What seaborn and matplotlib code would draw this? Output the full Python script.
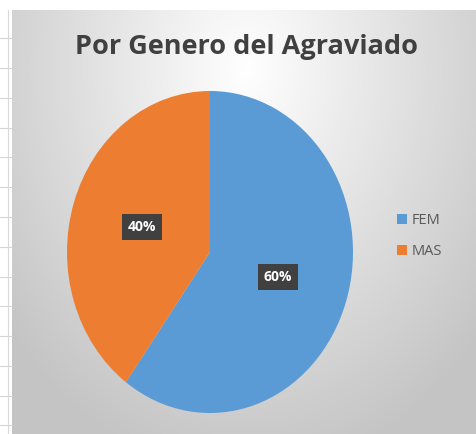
import numpy as np
import matplotlib
matplotlib.use("Agg")
import matplotlib.pyplot as plt
import seaborn as sns
from matplotlib.patches import Patch

categories = ["FEM", "MAS"]
values = [60, 40]
colors = ["#5B9BD5", "#ED7D31"]
title = "Por Genero del Agraviado"

sns.set_theme(style="white")
plt.rcParams['font.family'] = ['Open Sans', 'DejaVu Sans']

W, H = 476, 434
fig = plt.figure(figsize=(W / 100, H / 100), dpi=100)
fig.patch.set_facecolor("white")

# background: spreadsheet strip + gradient chart area
bg = fig.add_axes([0, 0, 1, 1])
bg.set_xlim(0, W)
bg.set_ylim(H, 0)
bg.axis("off")
yy, xx = np.mgrid[0:H, 0:W]
d = np.sqrt(((xx - 240) / 360.0) ** 2 + ((yy - 60) / 470.0) ** 2)
g = np.clip(1.0 - 0.26 * d, 0.77, 1.0)
img = np.dstack([g, g, g])
bg.imshow(img, extent=[12, W, H, 10], zorder=0)
for y in [38, 68, 98, 128, 157, 187, 217, 247, 277, 306, 336, 366, 396, 425]:
    bg.plot([0, 12], [y, y], color="#d4d4d4", lw=0.8, zorder=1)
bg.plot([8, 8], [10, H], color="#d9d9d9", lw=0.8, zorder=1)

# pie axes (slightly stretched vertically like the reference)
ax = fig.add_axes([67 / W, (H - 413) / H, 286 / W, 322 / H])
wedges, texts, autotexts = ax.pie(
    values, colors=colors, startangle=90, counterclock=False,
    autopct="%1.0f%%", pctdistance=0.5, radius=1.0,
    wedgeprops=dict(linewidth=0),
    textprops=dict(color="white", fontsize=10, fontweight="bold"),
)
for t in autotexts:
    t.set_bbox(dict(boxstyle="square,pad=0.45", facecolor="#404040", edgecolor="none"))
ax.set_aspect("auto")
ax.set_xlim(-1, 1)
ax.set_ylim(-1, 1)
ax.axis("off")

fig.text(246 / W, 1 - 47 / H, title, ha="center", va="center",
         fontsize=19.5, fontweight="bold", color="#404040")

handles = [Patch(facecolor=c, edgecolor="none") for c in colors]
fig.legend(handles, categories, loc="center left", bbox_to_anchor=(384 / W, 1 - 236 / H),
           frameon=False, fontsize=10.5, labelcolor="#595959", handlelength=0.7,
           handleheight=0.7, handletextpad=0.3, labelspacing=1.1)

fig.savefig("out.png", dpi=100)
